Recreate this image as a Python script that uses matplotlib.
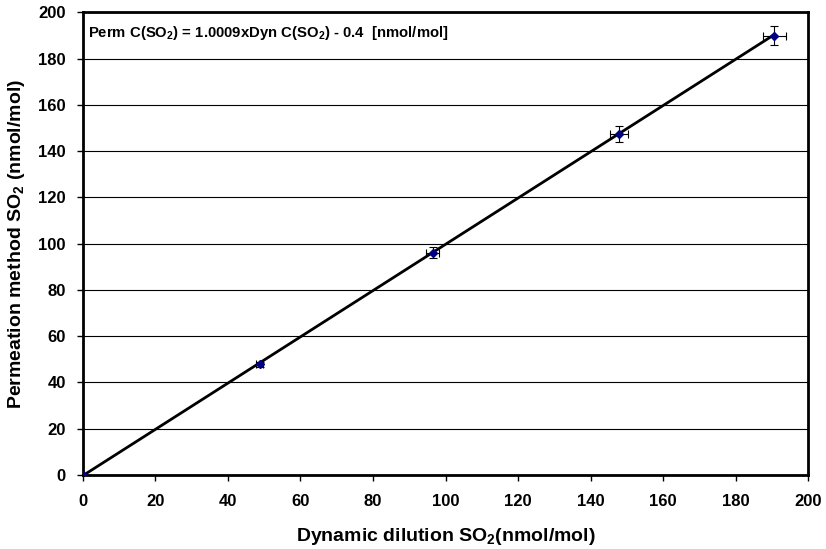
import matplotlib
matplotlib.use("Agg")
import matplotlib.pyplot as plt
import numpy as np

plt.rcParams['font.family'] = ['Liberation Sans', 'DejaVu Sans']
plt.rcParams['font.weight'] = 'bold'
plt.rcParams['mathtext.fontset'] = 'custom'
plt.rcParams['mathtext.rm'] = 'Liberation Sans:bold'
plt.rcParams['mathtext.it'] = 'Liberation Sans:bold'
plt.rcParams['mathtext.bf'] = 'Liberation Sans:bold'
plt.rcParams['mathtext.default'] = 'rm'

# Data
dyn = [0.0, 48.8, 96.5, 147.9, 190.6]
perm = [0.0, 47.8, 96.0, 147.3, 189.9]
dyn_err = [0.4, 1.0, 1.8, 2.5, 3.1]
perm_err = [0.4, 1.0, 2.4, 3.4, 4.2]
slope = 1.0009
intercept = -0.4
ticks = list(range(0, 201, 20))

fig = plt.figure(figsize=(8.26, 5.49), dpi=100)
ax = fig.add_axes([0.1, 0.135, 0.8787, 0.8425])

# Horizontal grid
ax.set_axisbelow(True)
ax.yaxis.grid(True, color='black', linewidth=0.8)

# Fit line
xf = np.array([0.0, max(dyn)])
ax.plot(xf, slope * xf + intercept, color='black', linewidth=2, zorder=3)

# Points with error bars
ax.errorbar(dyn, perm, xerr=dyn_err, yerr=perm_err, fmt='D', color='#000080',
            markersize=4, ecolor='black', elinewidth=0.8, capsize=2.6, capthick=0.8,
            zorder=4)

ax.set_xlim(0, 200)
ax.set_ylim(0, 200)
ax.set_xticks(ticks)
ax.set_yticks(ticks)
ax.tick_params(direction='out', length=4, width=1, labelsize=12)
ax.tick_params(axis='y', pad=8)
ax.tick_params(axis='x', pad=10)
for lab in ax.get_xticklabels() + ax.get_yticklabels():
    lab.set_fontweight('bold')
for s in ax.spines.values():
    s.set_linewidth(2)
    s.set_color('black')

ax.set_xlabel('Dynamic dilution SO$_2$(nmol/mol)', fontsize=14, fontweight='bold', labelpad=12)
ax.set_ylabel('Permeation method SO$_2$ (nmol/mol)', fontsize=14, fontweight='bold', labelpad=8)

ax.text(0.007, 0.955, 'Perm C(SO$_2$) = 1.0009xDyn C(SO$_2$) - 0.4  [nmol/mol]',
        transform=ax.transAxes, fontsize=10.7, fontweight='bold', va='center', ha='left')

fig.savefig('out.png', dpi=100)
